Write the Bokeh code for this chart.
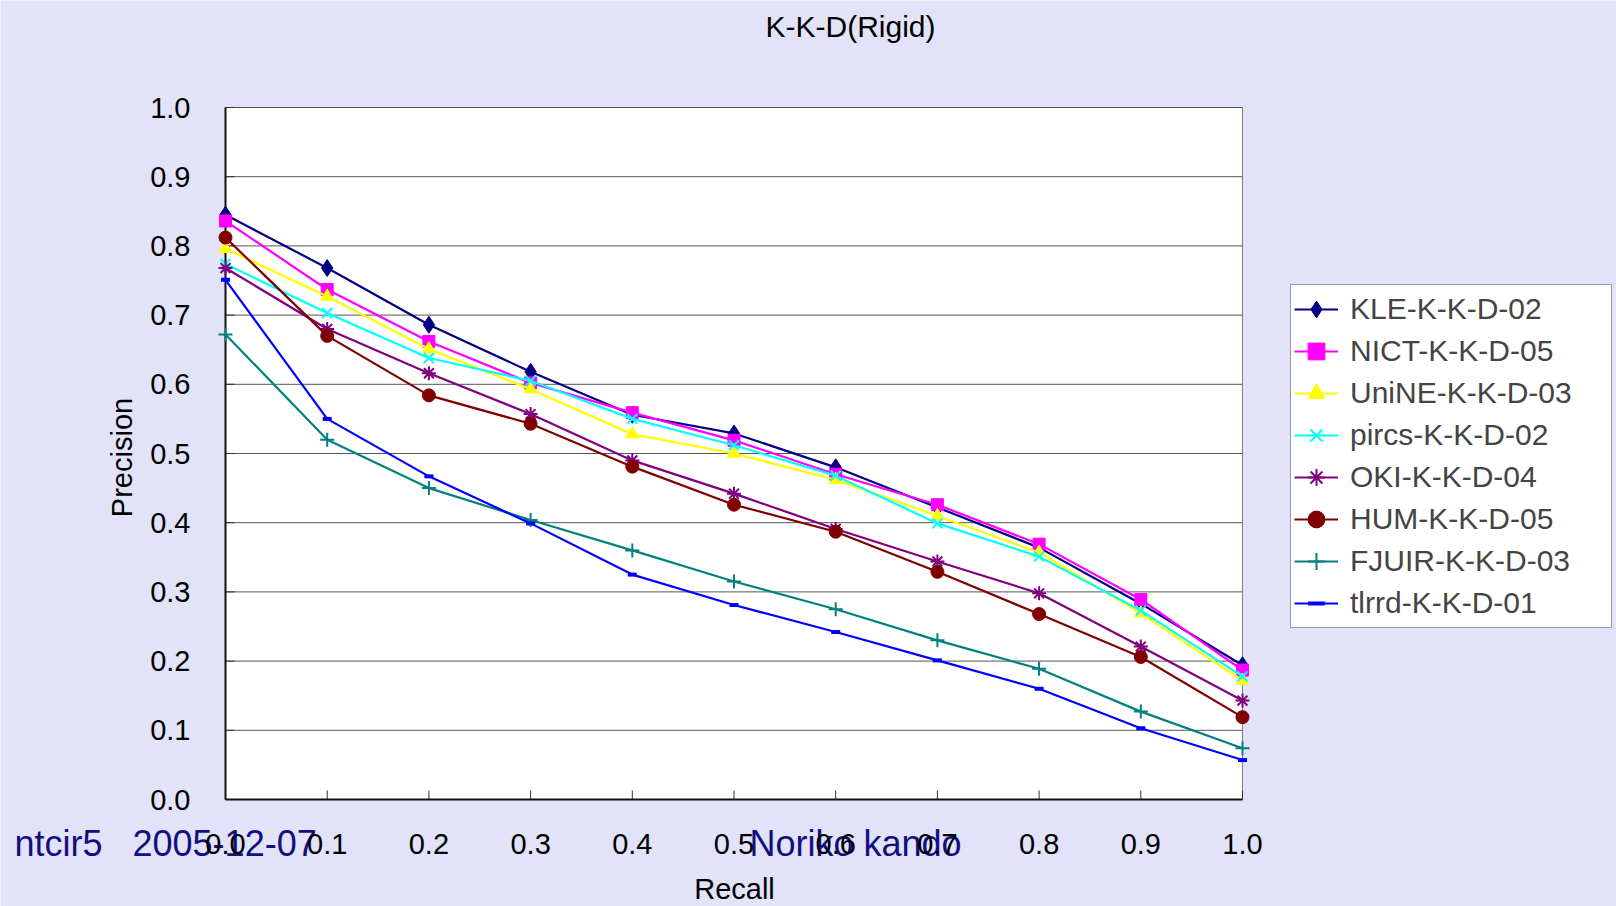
import math
from bokeh.plotting import figure
from bokeh.models import Range1d, Legend, LegendItem, Label
from bokeh.core.properties import value
from bokeh.embed import file_html
from bokeh.resources import INLINE

# ---- data ----
recall = [0.0, 0.1, 0.2, 0.3, 0.4, 0.5, 0.6, 0.7, 0.8, 0.9, 1.0]
kle   = [0.845, 0.768, 0.686, 0.618, 0.556, 0.529, 0.480, 0.422, 0.364, 0.283, 0.194]
nict  = [0.836, 0.737, 0.662, 0.602, 0.559, 0.519, 0.470, 0.426, 0.369, 0.289, 0.187]
unine = [0.796, 0.727, 0.651, 0.593, 0.528, 0.500, 0.462, 0.410, 0.357, 0.269, 0.172]
pircs = [0.774, 0.703, 0.638, 0.605, 0.550, 0.512, 0.468, 0.399, 0.351, 0.273, 0.178]
oki   = [0.768, 0.680, 0.616, 0.557, 0.490, 0.442, 0.391, 0.344, 0.298, 0.221, 0.143]
hum   = [0.812, 0.670, 0.584, 0.543, 0.481, 0.426, 0.387, 0.329, 0.268, 0.206, 0.119]
fjuir = [0.672, 0.520, 0.450, 0.404, 0.360, 0.315, 0.275, 0.230, 0.189, 0.127, 0.074]
tlrrd = [0.751, 0.550, 0.467, 0.399, 0.325, 0.281, 0.242, 0.201, 0.160, 0.103, 0.057]

names = ["KLE-K-K-D-02", "NICT-K-K-D-05", "UniNE-K-K-D-03", "pircs-K-K-D-02",
         "OKI-K-K-D-04", "HUM-K-K-D-05", "FJUIR-K-K-D-03", "tlrrd-K-K-D-01"]
series = [kle, nict, unine, pircs, oki, hum, fjuir, tlrrd]
y_ticks = [0.0, 0.1, 0.2, 0.3, 0.4, 0.5, 0.6, 0.7, 0.8, 0.9, 1.0]
x_ticks = recall
x_tick_labels = ["0.0", "0.1", "0.2", "0.3", "0.4", "0.5", "0.6", "0.7", "0.8", "0.9", "1.0"]
y_tick_labels = ["0.0", "0.1", "0.2", "0.3", "0.4", "0.5", "0.6", "0.7", "0.8", "0.9", "1.0"]

title_text = "K-K-D(Rigid)"
x_title = "Recall"
y_title = "Precision"
footer_left = "ntcir5\u00a0\u00a0\u00a02005-12-07"
footer_right = "Noriko kando"

# ---- styles ----
colors = ["#000080", "#FF00FF", "#FFFF00", "#00FFFF", "#800080", "#800000", "#008080", "#0000FF"]
markers = ["diamond", "square", "triangle", "x", "asterisk", "circle", "cross", "dash"]
msizes = [17, 12, 13, 14, 14, 13, 14, 9]
FONT = "Liberation Sans"
BG = "#E2E2F8"
FOOT = "#10107F"

W, H = 1616, 906
L, R, T, B = 225, 1242, 107, 799   # pixel box of the plot area


def dx(px):
    return (px - L) / (R - L)


def dy(py):
    return (B - py) / (B - T)


p = figure(width=W, height=H, output_backend="svg", toolbar_location=None,
           x_range=Range1d(dx(0), dx(W)), y_range=Range1d(dy(H), dy(0)),
           x_axis_location=None, y_axis_location=None, min_border=0)
p.border_fill_color = BG
p.background_fill_color = BG
p.outline_line_color = None
p.xgrid.visible = False
p.ygrid.visible = False

# plot area
p.quad(left=[x_ticks[0]], right=[x_ticks[-1]], bottom=[y_ticks[0]], top=[y_ticks[-1]],
       fill_color="white", line_color="#808080", line_width=1)
# horizontal grid lines
p.segment(x0=[x_ticks[0]] * (len(y_ticks) - 1), x1=[x_ticks[-1]] * (len(y_ticks) - 1),
          y0=y_ticks[1:], y1=y_ticks[1:], line_color="#555555", line_width=1)
# tick marks (inside)
tick_len_x = 9 / (B - T)
tick_len_y = 9 / (R - L)
p.segment(x0=x_ticks, x1=x_ticks, y0=[0] * len(x_ticks), y1=[tick_len_x] * len(x_ticks),
          line_color="#333333", line_width=1)
p.segment(x0=[0] * len(y_ticks), x1=[tick_len_y] * len(y_ticks), y0=y_ticks, y1=y_ticks,
          line_color="#333333", line_width=1)
# axis lines
p.segment(x0=[x_ticks[0], x_ticks[0]], x1=[x_ticks[0], x_ticks[-1]],
          y0=[y_ticks[0], y_ticks[0]], y1=[y_ticks[-1], y_ticks[0]],
          line_color="#111111", line_width=2)

# footer texts (drawn underneath the tick labels, as in the original)
p.text(x=[dx(14), dx(749)], y=[dy(843), dy(843)], text=[footer_left, footer_right],
       text_font=value(FONT), text_font_size="36px", text_align="left",
       text_baseline="middle", text_color=FOOT)

# tick labels
p.text(x=x_ticks, y=[dy(843)] * len(x_ticks), text=x_tick_labels,
       text_font=value(FONT), text_font_size="29px", text_align="center",
       text_baseline="middle", text_color="black")
p.text(x=[dx(190)] * len(y_ticks), y=y_ticks, text=y_tick_labels,
       text_font=value(FONT), text_font_size="29px", text_align="right",
       text_baseline="middle", text_color="black")

items = []
for name, vals, c, m, s in zip(names, series, colors, markers, msizes):
    ln = p.line(recall, vals, line_color=c, line_width=2.2)
    if m in ("x", "asterisk", "cross"):
        sc = p.scatter(recall, vals, marker=m, size=s, line_color=c, line_width=2)
    elif m == "dash":
        sc = p.scatter(recall, vals, marker=m, size=s, line_color=c, line_width=4)
    else:
        sc = p.scatter(recall, vals, marker=m, size=s, fill_color=c, line_color=c)
    items.append(LegendItem(label=name, renderers=[ln, sc]))

legend = Legend(items=items, location=(1290, H - 628),
                padding=3, margin=0, spacing=0,
                glyph_width=44, glyph_height=42, label_height=42,
                label_width=258, label_standoff=12,
                label_text_font=FONT, label_text_font_size="30px",
                border_line_color="#333333", border_line_width=1,
                background_fill_color="white", background_fill_alpha=1.0)
p.add_layout(legend, "center")

p.add_layout(Label(x=dx(850), y=dy(26), text=title_text, text_font=FONT,
                   text_font_size="30px", text_align="center",
                   text_baseline="middle", text_color="black"))
p.add_layout(Label(x=dx(734), y=dy(888), text=x_title, text_font=FONT,
                   text_font_size="29px", text_align="center",
                   text_baseline="middle", text_color="black"))
p.add_layout(Label(x=dx(121), y=dy(457), text=y_title, text_font=FONT,
                   text_font_size="29px", text_align="center",
                   text_baseline="middle", angle=math.pi / 2, text_color="black"))

open("out.html", "w").write(file_html(p, INLINE))
